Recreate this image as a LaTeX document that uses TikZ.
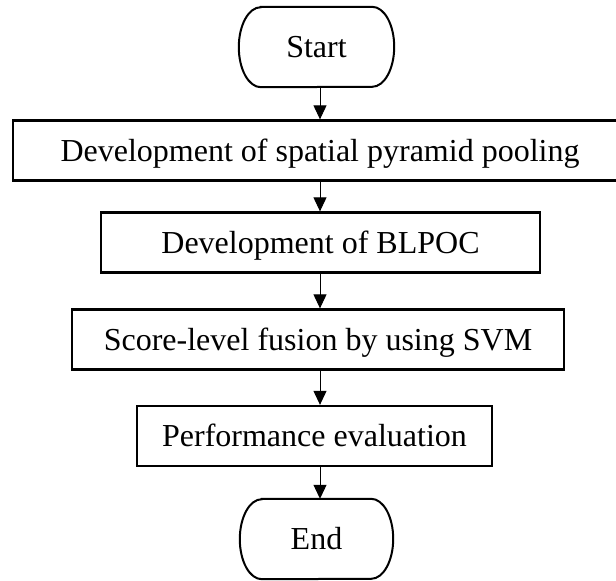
\documentclass[tikz,border=0pt]{standalone}
\usepackage{fontspec}
\setmainfont{Liberation Serif}
\usetikzlibrary{arrows.meta}
\begin{document}
\begin{tikzpicture}[x=1pt,y=-1pt,
  every node/.style={font=\fontsize{32}{38}\selectfont, text height=21pt, text depth=0pt, inner sep=0pt},
  stepbox/.style={draw, line width=2.3pt, minimum height=60pt},
  terminal/.style={minimum height=80pt},
  outline/.style={line width=2pt},
  flow/.style={line width=1pt, -{Triangle[length=14pt,width=13pt]}}]
  \clip (0,0) rectangle (616,581);
  \fill[white] (0,0) rectangle (616,581);

  \coordinate (spine) at (320,0);

  \node[terminal, minimum width=155pt] (start) at (316.5,47) {Start};
  \node[stepbox, minimum width=614pt] (b1) at (320,150.5) {Development of spatial pyramid pooling};
  \node[stepbox, minimum width=439pt] (b2) at (320.5,242.5) {Development of BLPOC};
  \node[stepbox, minimum width=492pt] (b3) at (318,339.5) {Score-level fusion by using SVM};
  \node[stepbox, minimum width=355pt] (b4) at (314.5,436) {Performance evaluation};
  \node[terminal, minimum width=153pt] (end) at (316.5,539) {End};

  % terminal outlines: straight top and bottom, half-elliptic ends
  \foreach \t in {start,end}{
    \draw[outline] ([xshift=22pt]\t.north west) -- ([xshift=-22pt]\t.north east)
      arc[start angle=90, end angle=-90, x radius=22pt, y radius=40pt]
      -- ([xshift=22pt]\t.south west)
      arc[start angle=270, end angle=90, x radius=22pt, y radius=40pt] -- cycle;
  }

  \draw[flow] (start.south -| spine) -- (b1.north -| spine);
  \draw[flow] (b1.south -| spine) -- (b2.north -| spine);
  \draw[flow] (b2.south -| spine) -- (b3.north -| spine);
  \draw[flow] (b3.south -| spine) -- (b4.north -| spine);
  \draw[flow] (b4.south -| spine) -- (end.north -| spine);
\end{tikzpicture}
\end{document}
